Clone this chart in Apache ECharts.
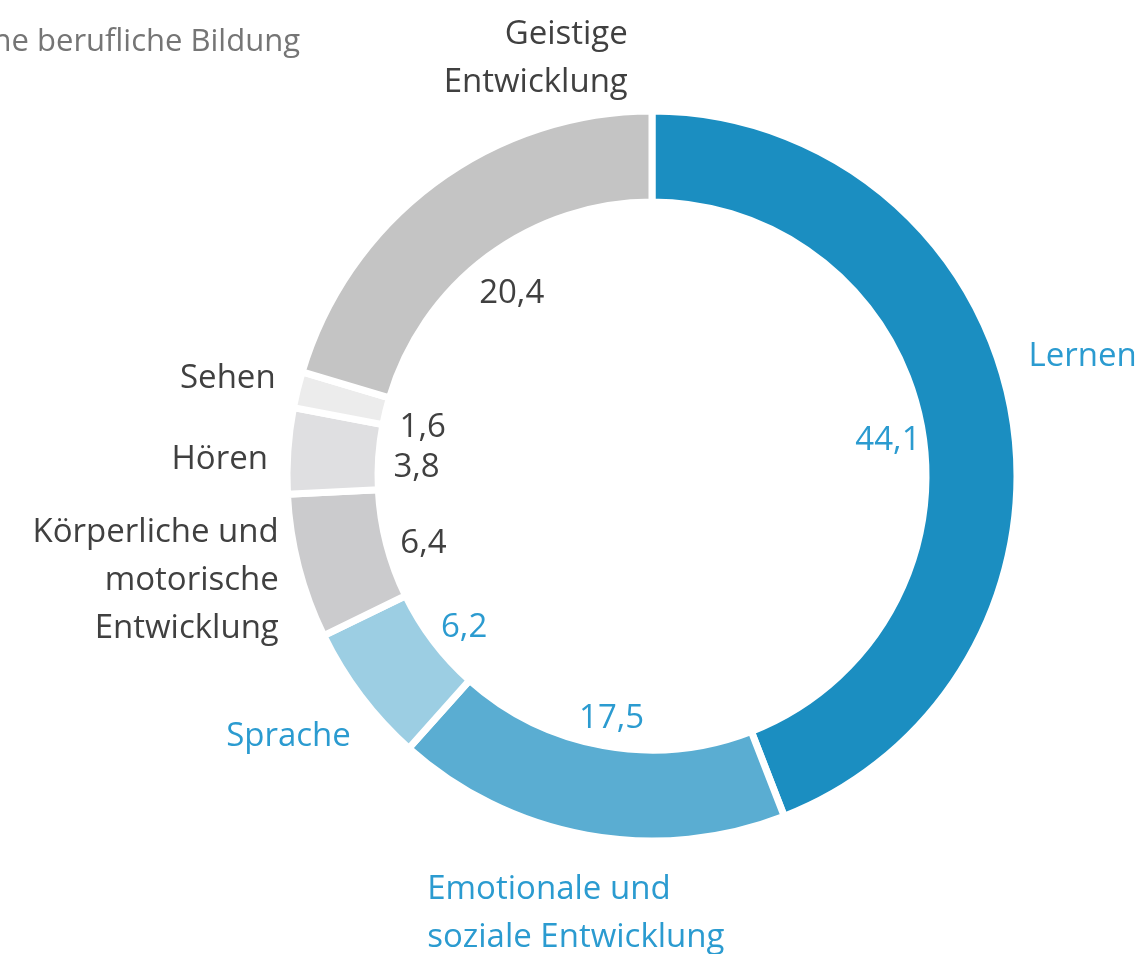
<!DOCTYPE html>
<html>
<head>
<meta charset="utf-8">
<script src="https://cdn.jsdelivr.net/npm/echarts@6/dist/echarts.min.js"></script>
<style>
  html, body {
    margin: 0;
    padding: 0;
    background: #fff;
  }
  .foerder-donut {
    width: 1142px;
    height: 954px;
  }
</style>
</head>
<body>
<div class="foerder-donut"></div>
<script>
// Förderschwerpunkte, Anteile in %
var categories = [
  'Lernen',
  'Emotionale und\nsoziale Entwicklung',
  'Sprache',
  'Körperliche und\nmotorische\nEntwicklung',
  'Hören',
  'Sehen',
  'Geistige\nEntwicklung'
]
var shares = [44.1, 17.5, 6.2, 6.4, 3.8, 1.6, 20.4]
var sliceColors = ['#1b8ec1', '#5aadd2', '#9ccee3', '#cbcbcd', '#dfdfe1', '#ececec', '#c4c4c4']
var textColors = ['#2b9bd0', '#2b9bd0', '#2b9bd0', '#404040', '#404040', '#404040', '#404040']

// nachjustieren der Beschriftung (wie im Original, Excel-Style)
var nameShift = [
  { dx: 3, dy: -50 },
  { dx: -153, dy: 69, align: 'left' },
  { dx: 3, dy: 34 },
  { dx: -5, dy: 11 },
  { dx: -5, dy: 9 },
  { dx: -7, dy: -9 },
  { dx: 205, dy: -117 }
]

var fontFamily = '"Open Sans", sans-serif'

var myChart = echarts.init(document.querySelector('.foerder-donut'))

var nameData = categories.map(function(name, i) {
  return {
    name: name,
    value: shares[i],
    itemStyle: { color: sliceColors[i] },
    label: { color: textColors[i] }
  }
})
var valueData = categories.map(function(name, i) {
  return {
    name: name,
    value: shares[i],
    label: { color: textColors[i] }
  }
})

const option = {
  animation: false,
  title: {
    text: 'Allgemeine berufliche Bildung',
    right: 837,
    top: 22,
    textStyle: {
      color: '#757575',
      fontFamily: fontFamily,
      fontWeight: 'normal',
      fontSize: 31
    }
  },
  series: [
    {
      type: 'pie',
      center: [652, 476],
      radius: [274, 365],
      startAngle: 90,
      clockwise: true,
      avoidLabelOverlap: false,
      silent: true,
      itemStyle: {
        borderColor: '#fff',
        borderWidth: 7
      },
      label: {
        show: true,
        position: 'outside',
        alignTo: 'none',
        distanceToLabelLine: 5,
        fontFamily: fontFamily,
        fontSize: 33,
        lineHeight: 48,
        formatter: '{b}'
      },
      labelLine: {
        show: false,
        length: 10,
        length2: 0
      },
      labelLayout: function(params) {
        var s = nameShift[params.dataIndex]
        var res = { dx: s.dx, dy: s.dy }
        if (s.align) res.align = s.align
        return res
      },
      data: nameData
    },
    {
      type: 'pie',
      center: [654, 484],
      radius: [210, 260],
      startAngle: 90,
      clockwise: true,
      silent: true,
      avoidLabelOverlap: false,
      itemStyle: {
        color: 'rgba(0,0,0,0)'
      },
      label: {
        show: true,
        position: 'inside',
        fontFamily: fontFamily,
        fontSize: 33,
        formatter: function(p) {
          return p.value.toFixed(1).replace('.', ',')
        }
      },
      labelLine: { show: false },
      data: valueData
    }
  ]
}
myChart.setOption(option)
</script>
</body>
</html>
